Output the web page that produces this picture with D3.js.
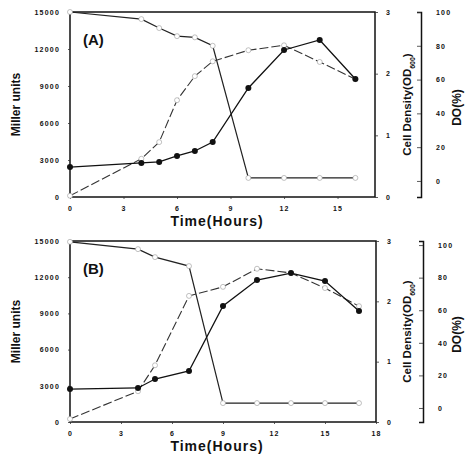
<!DOCTYPE html>
<html><head><meta charset="utf-8">
<script src="https://cdn.jsdelivr.net/npm/d3@7/dist/d3.min.js"></script>
<style>body{margin:0;background:#fff}svg{display:block}text{font-family:Arial,"Liberation Sans",sans-serif;font-weight:bold;fill:#111}</style>
</head><body>
<script>
// Panel A data
const timesA = [0,4,5,6,7,8,10,12,14,16];
const millerA = [2430,2760,2840,3330,3730,4460,8840,11920,12730,9570];
const odA = [0.02,0.62,0.89,1.57,1.96,2.2,2.38,2.46,2.19,1.91];
const doA = [100,95.8,90.5,85.7,85,80,1.8,1.8,1.8,1.8];
// Panel B data
const timesB = [0,4,5,7,9,11,13,15,17];
const millerB = [2730,2820,3560,4230,9610,11760,12340,11680,9200];
const odB = [0.05,0.51,0.94,2.09,2.24,2.54,2.47,2.22,1.92];
const doB = [102,97.5,92.6,87.1,3,3,3,3,3];
// Ticks
const xTicksA = [0,3,6,9,12,15];
const xTicksB = [0,3,6,9,12,15,18];
const millerTicks = [0,3000,6000,9000,12000,15000];
const odTicks = [0,1,2,3];
const doTicks = [0,20,40,60,80,100];

const svg = d3.select("body").append("svg").attr("width",466).attr("height",464);

function panel(cfg){
  const g = svg.append("g");
  const x = d3.scaleLinear().domain([0,cfg.xMax]).range([cfg.left,cfg.right]);
  const yM = d3.scaleLinear().domain([0,15000]).range([cfg.bottom,cfg.top]);
  const yO = d3.scaleLinear().domain([0,3]).range([cfg.bottom,cfg.top]);
  const yD = d3.scaleLinear().domain(cfg.doDomain).range([cfg.bottom,cfg.top]);

  g.append("rect").attr("x",cfg.left).attr("y",cfg.top).attr("width",cfg.right-cfg.left)
    .attr("height",cfg.bottom-cfg.top).attr("fill","none").attr("stroke","#111").attr("stroke-width",1.5);

  const la = g.append("g").attr("transform",`translate(${cfg.left},0)`)
    .call(d3.axisLeft(yM).tickValues(millerTicks).tickSize(2).tickPadding(8).tickFormat(d3.format("d")));
  const ba = g.append("g").attr("transform",`translate(0,${cfg.bottom})`)
    .call(d3.axisBottom(x).tickValues(cfg.xTicks).tickSize(2).tickPadding(7).tickFormat(d3.format("d")));
  const ra = g.append("g").attr("transform",`translate(${cfg.right},0)`)
    .call(d3.axisRight(yO).tickValues(odTicks).tickSize(3).tickPadding(8).tickFormat(d3.format("d")));
  const da = g.append("g").attr("transform",`translate(${cfg.doX},0)`)
    .call(d3.axisLeft(yD).tickValues(doTicks).tickSize(4).tickFormat(d3.format("d")));
  da.selectAll(".tick text").attr("text-anchor","start").attr("x",15);
  [la,ba,ra,da].forEach(a=>{
    a.select(".domain").attr("stroke","#111").attr("stroke-width",1.5);
    a.selectAll(".tick line").attr("stroke","#333").attr("stroke-width",0.8);
    a.selectAll(".tick text").style("font-size","7px").style("letter-spacing","1.2px").attr("fill","#111");
  });
  la.select(".domain").remove(); ba.select(".domain").remove(); ra.select(".domain").remove();

  const t = cfg.times;
  const lineDo = d3.line().x((d,i)=>x(t[i])).y(d=>yD(d));
  const lineOd = d3.line().x((d,i)=>x(t[i])).y(d=>yO(d));
  const lineM = d3.line().x((d,i)=>x(t[i])).y(d=>yM(d));
  g.append("path").attr("d",lineDo(cfg.dov)).attr("fill","none").attr("stroke","#222").attr("stroke-width",1.2);
  g.append("path").attr("d",lineOd(cfg.od)).attr("fill","none").attr("stroke","#333").attr("stroke-width",1.1).attr("stroke-dasharray","9,3");
  g.append("path").attr("d",lineM(cfg.miller)).attr("fill","none").attr("stroke","#111").attr("stroke-width",1.3);

  g.selectAll(".mdo").data(cfg.dov).join("circle").attr("cx",(d,i)=>x(t[i])).attr("cy",d=>yD(d))
    .attr("r",2.5).attr("fill","#fff").attr("stroke","#999").attr("stroke-width",0.6);
  g.selectAll(".mod").data(cfg.od).join("circle").attr("cx",(d,i)=>x(t[i])).attr("cy",d=>yO(d))
    .attr("r",2.5).attr("fill","#fff").attr("stroke","#999").attr("stroke-width",0.6);
  g.selectAll(".mm").data(cfg.miller).join("circle").attr("cx",(d,i)=>x(t[i])).attr("cy",d=>yM(d))
    .attr("r",3).attr("fill","#111");

  g.append("text").attr("x",cfg.left+13).attr("y",cfg.top+33).style("font-size","15px").text(cfg.label);
  g.append("text").attr("transform",`translate(20,${(cfg.top+cfg.bottom)/2}) rotate(-90)`)
    .attr("text-anchor","middle").style("font-size","12px").text("Miller units");
  g.append("text").attr("x",217).attr("y",cfg.bottom+29).attr("text-anchor","middle")
    .style("font-size","14px").style("letter-spacing","1px").text("Time(Hours)");
  const cd = g.append("text").attr("transform",`translate(411,${(cfg.top+cfg.bottom)/2}) rotate(-90)`)
    .attr("text-anchor","middle").style("font-size","11.5px");
  cd.append("tspan").text("Cell Density(OD");
  cd.append("tspan").attr("dy",4).style("font-size","7px").text("600");
  cd.append("tspan").attr("dy",-4).text(")");
  g.append("text").attr("transform",`translate(461,${(cfg.top+cfg.bottom)/2+3}) rotate(-90)`)
    .attr("text-anchor","middle").style("font-size","12px").text("DO(%)");
}

panel({label:"(A)",left:70,right:375,top:12,bottom:197,xMax:17.1,xTicks:xTicksA,doDomain:[-9.5,100],doX:421,
  times:timesA,miller:millerA,od:odA,dov:doA});
panel({label:"(B)",left:70,right:376,top:241,bottom:422,xMax:18,xTicks:xTicksB,doDomain:[-8.6,102.5],doX:423,
  times:timesB,miller:millerB,od:odB,dov:doB});
</script>
</body></html>
